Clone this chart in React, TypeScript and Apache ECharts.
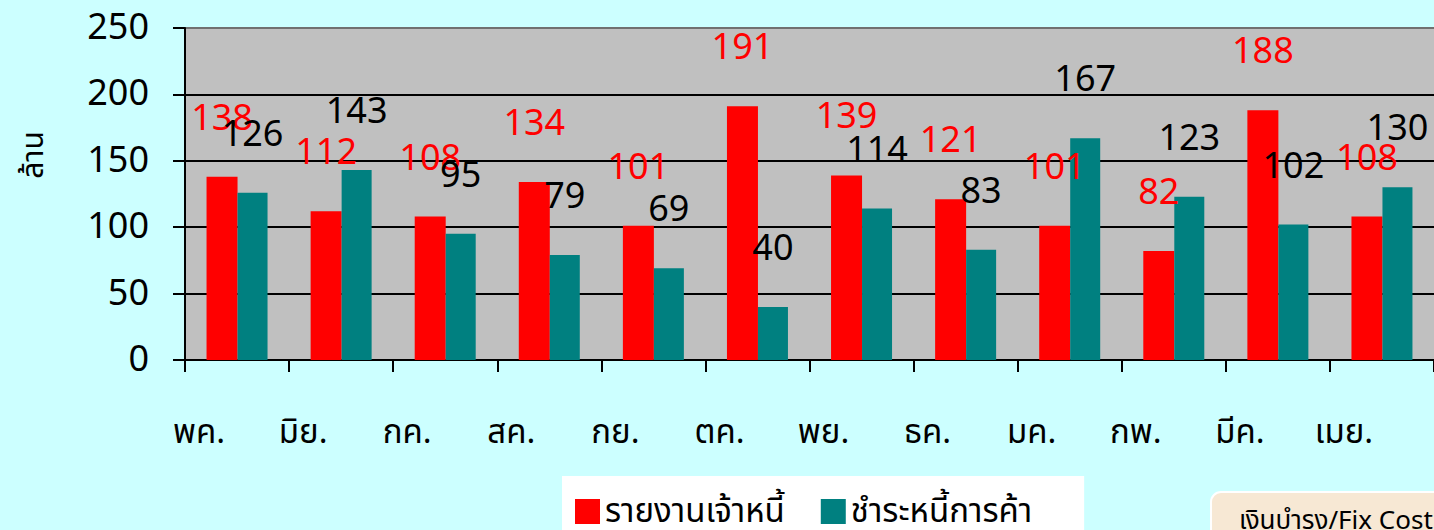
import React, { useEffect, useRef } from "react";
import * as echarts from "echarts";

const months = ["พค.", "มิย.", "กค.", "สค.", "กย.", "ตค.", "พย.", "ธค.", "มค.", "กพ.", "มีค.", "เมย."];
const creditorReport = [138, 112, 108, 134, 101, 191, 139, 121, 101, 82, 188, 108];
const tradePayment = [126, 143, 95, 79, 69, 40, 114, 83, 167, 123, 102, 130];
const seriesNames = ["รายงานเจ้าหนี้", "ชำระหนี้การค้า"];
const yAxisName = "ล้าน";
const boxText = "เงินบำรุง/Fix Cost";

const FONT = "'Noto Sans Thai', 'Noto Sans', Tahoma, sans-serif";

export default function App() {
  const ref = useRef<HTMLDivElement>(null);
  useEffect(() => {
    if (!ref.current) return;
    const chart = echarts.init(ref.current, undefined, { renderer: "svg" });
    chart.setOption({
      animation: false,
      backgroundColor: "#ccffff",
      textStyle: { fontFamily: FONT },
      grid: {
        left: 185,
        top: 28,
        right: -17,
        bottom: 170,
        show: true,
        backgroundColor: "#c0c0c0",
        borderWidth: 0,
      },
      legend: {
        left: 562,
        top: 476,
        backgroundColor: "#ffffff",
        padding: [19, 52, 20, 13],
        itemWidth: 25,
        itemHeight: 25,
        itemGap: 36,
        icon: "rect",
        textStyle: { fontSize: 33, color: "#000", fontFamily: FONT },
        data: seriesNames,
      },
      xAxis: {
        type: "category",
        data: months,
        axisLine: { lineStyle: { color: "#000", width: 2 } },
        axisTick: { show: true, length: 12, lineStyle: { color: "#000", width: 2 } },
        axisLabel: {
          color: "#000",
          fontSize: 33,
          margin: 56,
          padding: [0, 76, 0, 0],
          fontFamily: FONT,
        },
        splitLine: { show: false },
      },
      yAxis: {
        type: "value",
        min: 0,
        max: 250,
        interval: 50,
        name: yAxisName,
        nameLocation: "middle",
        nameGap: 136,
        nameRotate: 90,
        nameTextStyle: { fontSize: 30, color: "#000", padding: [0, 0, 0, 78], fontFamily: FONT },
        axisLine: { show: true, lineStyle: { color: "#000", width: 2 } },
        axisTick: { show: true, length: 12, lineStyle: { color: "#000", width: 2 } },
        axisLabel: { color: "#000", fontSize: 36, margin: 36, fontFamily: FONT },
        splitLine: {
          show: true,
          lineStyle: { color: ["#000", "#000", "#000", "#000", "#000", "#707070"], width: 2 },
        },
      },
      series: [
        {
          name: seriesNames[0],
          type: "bar",
          data: creditorReport,
          barWidth: 31,
          barGap: "0%",
          itemStyle: { color: "#ff0000" },
          label: {
            show: true,
            position: "top",
            distance: 40,
            color: "#ff0000",
            fontSize: 36,
            fontFamily: FONT,
          },
        },
        {
          name: seriesNames[1],
          type: "bar",
          data: tradePayment,
          barWidth: 30,
          itemStyle: { color: "#008080" },
          label: {
            show: true,
            position: "top",
            distance: 40,
            color: "#000",
            fontSize: 36,
            fontFamily: FONT,
          },
        },
      ],
      graphic: [
        {
          type: "group",
          left: 1210,
          top: 491,
          children: [
            {
              type: "rect",
              shape: { x: 0, y: 0, width: 260, height: 60, r: 10 },
              style: { fill: "#f7e8d4", stroke: "#ffffff", lineWidth: 2 },
            },
            {
              type: "text",
              x: 28,
              y: 16,
              style: { text: boxText, fontSize: 26, fill: "#000", fontFamily: FONT },
            },
          ],
        },
      ],
    });
    return () => chart.dispose();
  }, []);
  return (
    <div style={{ position: "fixed", left: 0, top: 0, width: 1434, height: 530 }}>
      <div ref={ref} style={{ width: 1434, height: 530 }} />
    </div>
  );
}
